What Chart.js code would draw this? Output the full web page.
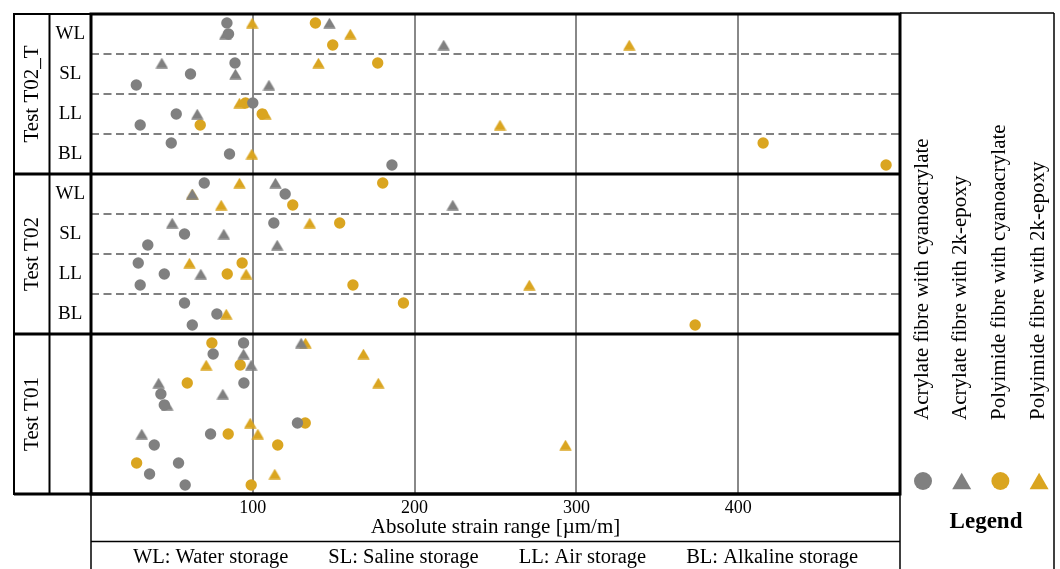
<!DOCTYPE html>
<html>
<head>
<meta charset="utf-8">
<script src="https://cdn.jsdelivr.net/npm/chart.js@4"></script>
<style>
  html, body { margin: 0; padding: 0; background: #fff; }
  #wrap { width: 1060px; height: 569px; }
</style>
</head>
<body>
<div id="wrap"><canvas id="myChart"></canvas></div>
<script>
const panelLabels = ['Test T02_T', 'Test T02', 'Test T01'];
const storageCodes = ['WL', 'SL', 'LL', 'BL'];
const storageNames = ['Water storage', 'Saline storage', 'Air storage', 'Alkaline storage'];
const seriesLabels = [
    'Acrylate fibre with cyanoacrylate',
    'Acrylate fibre with 2k-epoxy',
    'Polyimide fibre with cyanoacrylate',
    'Polyimide fibre with 2k-epoxy'
];
const xTicks = [100, 200, 300, 400];

// 12 rows (3 tests x 4 storage groups), 3 specimens per row, null = no point
const acrylateCyano = [
    84, 85, null,      89, 61.5, 28,      100, 52.7, 30.4,   49.6, 85.6, 186,    // T02_T
    70, 120, null,     113, 57.8, 35.1,   29.2, 45.3, 30.4,  57.8, 77.8, 62.6,   // T02
    94.3, 75.5, null,  94.5, 43.2, 45.3,  127.6, 73.9, 39.1, 54.1, 36.2, 58.2    // T01
];
const acrylateEpoxy = [
    147.4, 83, 218,    43.8, 89.3, 110,   null, 65.7, null,  null, null, null,
    114, 62.6, 223.6,  50.2, 82.1, 115.1, null, 67.9, null,  null, null, null,
    129.9, 94.3, 99,   41.8, 81.5, 47.1,  null, 31.4, null,  null, null, null
];
const polyimideCyano = [
    138.7, null, 149.4, 177.2, null, null, 95.5, 105.8, 67.5,  415.4, null, 491.4,
    180.3, null, 124.7, 153.7, null, null, 93.4, 84.2, 161.9,  193.1, null, 373.4,
    74.7, null, 92.2,   59.5, null, null,  132.4, 84.8, 115.4, 28.2, null, 99
];
const polyimideEpoxy = [
    99.6, 160.3, 332.7, 140.6, null, null, 91.8, 107.8, 252.8, null, 99.4, null,
    91.8, 62.6, 80.5,   135.2, null, null, 60.9, 95.9, 270.9,  null, 83.6, null,
    132.6, 168.4, 71.2, 177.6, null, null, 98.4, 103.1, 293.3, null, 113.6, null
];

const GREY = '#808080';
const GOLD = '#DAA520';
const SERIF = '"Liberation Serif", "DejaVu Serif", serif';

// row index -> y value, specimens spread inside the row
function toPoints(values) {
    const pts = [];
    values.forEach((v, k) => {
        if (v === null) return;
        const row = Math.floor(k / 3);
        pts.push({ x: v, y: row + 0.5 + (k % 3 - 1) * 0.275 });
    });
    return pts;
}

function line(ctx, x1, y1, x2, y2, w) {
    ctx.lineWidth = w;
    ctx.beginPath();
    ctx.moveTo(x1, y1);
    ctx.lineTo(x2, y2);
    ctx.stroke();
}

function marker(ctx, shape, x, y, size, color) {
    ctx.fillStyle = color;
    ctx.beginPath();
    if (shape === 'circle') {
        ctx.arc(x, y, size / 2, 0, Math.PI * 2);
    } else {
        const h = size * 0.86;
        ctx.moveTo(x, y - h / 2);
        ctx.lineTo(x + size / 2, y + h / 2);
        ctx.lineTo(x - size / 2, y + h / 2);
        ctx.closePath();
    }
    ctx.fill();
}

// triangle sprite, centred on its bounding box like the circles
function triangleSprite(color) {
    const c = document.createElement('canvas');
    c.width = 13;
    c.height = 11;
    marker(c.getContext('2d'), 'triangle', 6.5, 5.5, 12.4, color);
    return c;
}

const COL_A = 14, COL_B = 49.5, LEGEND_R = 1054, PAGE_H = 569;

const frame = {
    id: 'frame',
    beforeDatasetsDraw(chart) {
        const { ctx, chartArea: a, scales: { y } } = chart;
        ctx.save();
        ctx.strokeStyle = '#000';
        // label columns
        ctx.lineWidth = 2;
        ctx.strokeRect(COL_A, a.top, a.left - COL_A, a.bottom - a.top);
        line(ctx, COL_B, a.top, COL_B, a.bottom, 2);
        // plot box and test separators
        ctx.lineWidth = 3;
        ctx.strokeRect(a.left, a.top, a.right - a.left, a.bottom - a.top);
        line(ctx, COL_A, y.getPixelForValue(4), a.right, y.getPixelForValue(4), 3);
        line(ctx, COL_A, y.getPixelForValue(8), a.right, y.getPixelForValue(8), 3);
        line(ctx, COL_A, a.bottom, a.right, a.bottom, 3);
        // axis box, storage key box, legend box
        line(ctx, a.left, a.bottom, a.left, PAGE_H, 1.5);
        line(ctx, a.right, a.bottom, a.right, PAGE_H, 1.5);
        line(ctx, a.left, 541.5, a.right, 541.5, 1.5);
        line(ctx, a.right, a.top - 1, LEGEND_R, a.top - 1, 1.5);
        line(ctx, LEGEND_R, a.top - 1, LEGEND_R, PAGE_H, 1.5);
        ctx.restore();
    },
    afterDraw(chart) {
        const { ctx, chartArea: a, scales: { y } } = chart;
        ctx.save();
        ctx.fillStyle = '#000';
        ctx.textAlign = 'center';
        ctx.textBaseline = 'middle';

        // test names, rotated
        ctx.font = '21px ' + SERIF;
        panelLabels.forEach((name, p) => {
            const cy = y.getPixelForValue(p * 4 + 2);
            ctx.save();
            ctx.translate((COL_A + COL_B) / 2 + 1, cy);
            ctx.rotate(-Math.PI / 2);
            ctx.fillText(name, 0, 0);
            ctx.restore();
        });

        // storage codes for the two split tests
        ctx.font = '19px ' + SERIF;
        [0, 1].forEach(p => {
            storageCodes.forEach((code, g) => {
                ctx.fillText(code, (COL_B + a.left) / 2, y.getPixelForValue(p * 4 + g + 0.5));
            });
        });

        // storage key under the axis
        ctx.font = '20.5px ' + SERIF;
        const keys = storageCodes.map((c, i) => c + ': ' + storageNames[i]);
        const widths = keys.map(k => ctx.measureText(k).width);
        const gap = 40;
        const total = widths.reduce((s, w) => s + w, 0) + gap * (keys.length - 1);
        let kx = (a.left + a.right) / 2 - total / 2;
        ctx.textAlign = 'left';
        keys.forEach((k, i) => {
            ctx.fillText(k, kx, 557.5);
            kx += widths[i] + gap;
        });

        // legend, rotated labels with markers below
        ctx.font = '21px ' + SERIF;
        chart.data.datasets.forEach((ds, i) => {
            const cx = 922 + i * 38.7;
            ctx.save();
            ctx.translate(cx, 420);
            ctx.rotate(-Math.PI / 2);
            ctx.fillStyle = '#000';
            ctx.textAlign = 'left';
            ctx.fillText(ds.label, 0, 0);
            ctx.restore();
            marker(ctx, ds.shape, cx + 1, 481, ds.shape === 'circle' ? 18 : 19, ds.backgroundColor);
        });
        ctx.fillStyle = '#000';
        ctx.textAlign = 'center';
        ctx.font = 'bold 23px ' + SERIF;
        ctx.fillText('Legend', 986, 522);
        ctx.restore();
    }
};

const series = [
    { data: acrylateCyano, color: GREY, shape: 'circle' },
    { data: acrylateEpoxy, color: GREY, shape: 'triangle' },
    { data: polyimideCyano, color: GOLD, shape: 'circle' },
    { data: polyimideEpoxy, color: GOLD, shape: 'triangle' }
];

const ctx = document.getElementById('myChart').getContext('2d');
const chart = new Chart(ctx, {
    type: 'scatter',
    data: {
        datasets: series.map((s, i) => ({
            label: seriesLabels[i],
            data: toPoints(s.data),
            shape: s.shape,
            backgroundColor: s.color,
            borderWidth: 0,
            pointStyle: s.shape === 'circle' ? 'circle' : triangleSprite(s.color),
            pointRadius: 5.7
        }))
    },
    options: {
        responsive: true,
        maintainAspectRatio: false,
        animation: false,
        layout: { padding: { left: 91, top: 14, right: 160, bottom: 0 } },
        plugins: { legend: { display: false }, tooltip: { enabled: false } },
        scales: {
            x: {
                type: 'linear',
                min: 0,
                max: 500,
                afterBuildTicks: s => { s.ticks = xTicks.map(v => ({ value: v })); },
                afterFit: s => { s.height = 75; },
                grid: { color: '#888', lineWidth: 2, drawTicks: false },
                border: { display: false },
                ticks: { color: '#000', font: { family: SERIF, size: 18 }, padding: 3, maxRotation: 0 },
                title: {
                    display: true,
                    text: 'Absolute strain range [µm/m]',
                    color: '#000',
                    font: { family: SERIF, size: 21 },
                    padding: { top: 0, bottom: 29 }
                }
            },
            y: {
                type: 'linear',
                min: 0,
                max: 12,
                reverse: true,
                afterBuildTicks: s => { s.ticks = [1, 2, 3, 5, 6, 7].map(v => ({ value: v })); },
                afterFit: s => { s.width = 0; },
                ticks: { display: false },
                grid: { color: GREY, lineWidth: 2, drawTicks: false },
                border: { display: false, dash: [8, 4.5] }
            }
        }
    },
    plugins: [frame]
});
</script>
</body>
</html>
